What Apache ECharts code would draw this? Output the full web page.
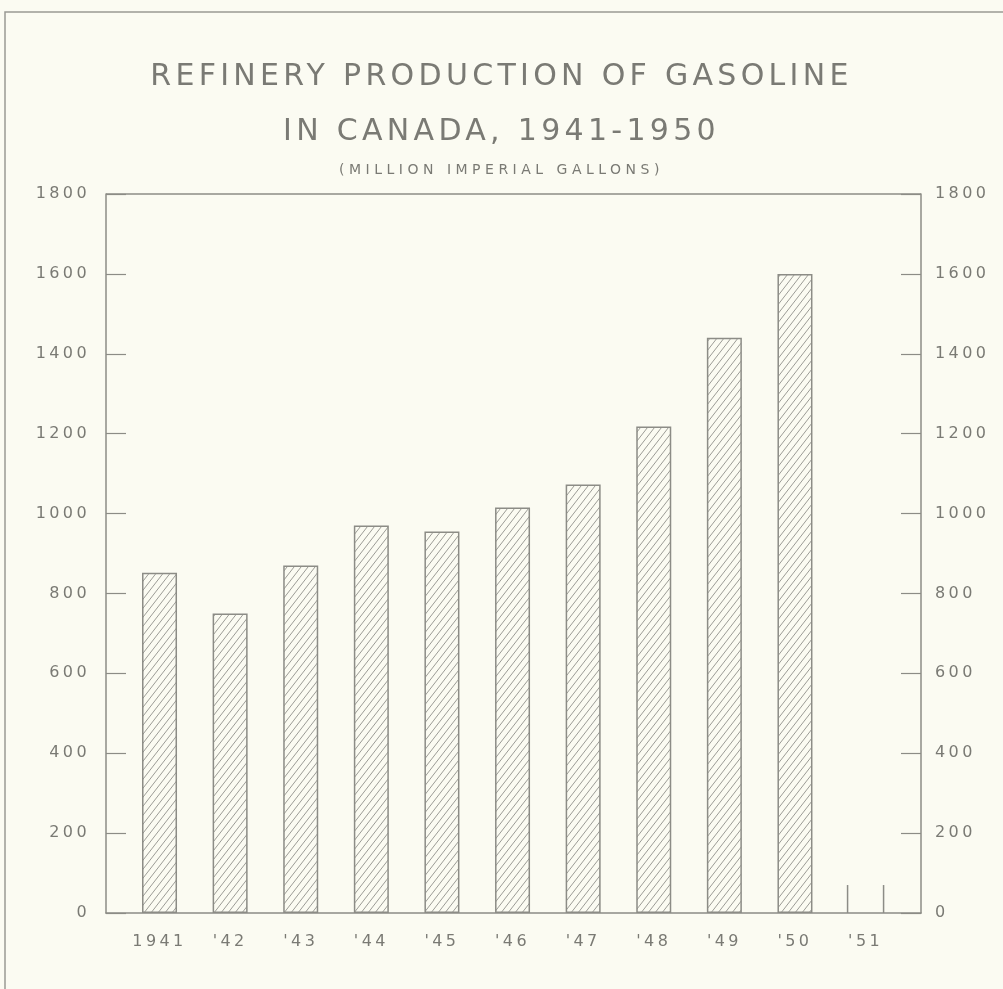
<!DOCTYPE html>
<html>
<head>
<meta charset="utf-8">
<script src="https://cdn.jsdelivr.net/npm/echarts@6/dist/echarts.min.js"></script>
<style>
html,body{margin:0;padding:0;background:#fbfbf2;}
#c{width:1003px;height:989px;}
</style>
</head>
<body>
<div id="c"></div>
<script>
// ---- data ----
const years = [1941, 1942, 1943, 1944, 1945, 1946, 1947, 1948, 1949, 1950];
const production = [852, 750, 870, 970, 955, 1015, 1073, 1218, 1440, 1600];
const labelYears = [1941, 1942, 1943, 1944, 1945, 1946, 1947, 1948, 1949, 1950, 1951];
const placeholderYear = [1951];
const placeholderHeight = [70];
const titleLine1 = 'REFINERY PRODUCTION OF GASOLINE';
const titleLine2 = 'IN CANADA, 1941-1950';
const subtitle = '(MILLION IMPERIAL GALLONS)';

// ---- styles ----
const ink = '#8c8c86';
const textInk = '#7a7a74';
const font = 'DejaVu Sans';
const TITLE_SIZE = 30, SUB_SIZE = 14, AXIS_SIZE = 16;
const spacingBySize = {30: 4.3, 14: 4.5, 16: 3.4};

// letter-spaced lettering (style only)
(function () {
  const proto = CanvasRenderingContext2D.prototype;
  if (!('letterSpacing' in proto)) return;
  const orig = proto.fillText;
  proto.fillText = function (t, x, y, m) {
    const mm = /(\d+(?:\.\d+)?)px/.exec(this.font);
    const fs = mm ? Math.round(+mm[1]) : 0;
    const sp = spacingBySize[fs];
    if (sp) {
      const prev = this.letterSpacing;
      this.letterSpacing = sp + 'px';
      if (m === undefined) orig.call(this, t, x, y); else orig.call(this, t, x, y, m);
      this.letterSpacing = prev;
    } else {
      if (m === undefined) orig.call(this, t, x, y); else orig.call(this, t, x, y, m);
    }
  };
})();

function hatch() {
  const w = 7, h = 9;
  const c = document.createElement('canvas');
  c.width = w; c.height = h;
  const g = c.getContext('2d');
  g.fillStyle = '#fbfbf2';
  g.fillRect(0, 0, w, h);
  g.strokeStyle = '#9c9c96';
  g.lineWidth = 1;
  g.beginPath();
  g.moveTo(0, h); g.lineTo(w, 0);
  g.moveTo(-w, h); g.lineTo(0, 0);
  g.moveTo(w, h); g.lineTo(2 * w, 0);
  g.stroke();
  return c;
}

const chart = echarts.init(document.getElementById('c'), null, {renderer: 'canvas'});

function yr(v) { return v === 1941 ? '1941' : "'" + String(v).slice(2); }
const axisLabelStyle = {fontFamily: font, fontSize: AXIS_SIZE, color: textInk};

chart.setOption({
  backgroundColor: '#fbfbf2',
  animation: false,
  title: [
    {text: titleLine1, left: 'center', top: 57, textStyle: {fontFamily: font, fontWeight: 'normal', fontSize: TITLE_SIZE, color: textInk}},
    {text: titleLine2, left: 'center', top: 112, textStyle: {fontFamily: font, fontWeight: 'normal', fontSize: TITLE_SIZE, color: textInk}},
    {text: subtitle, left: 'center', top: 158, textStyle: {fontFamily: font, fontWeight: 'normal', fontSize: SUB_SIZE, color: textInk}}
  ],
  grid: {left: 106, right: 82, top: 194, bottom: 76, show: false},
  xAxis: {
    type: 'value', min: 1940.242, max: 1951.785,
    splitLine: {show: false},
    axisLine: {show: true, onZero: false, lineStyle: {color: ink, width: 1.5}},
    axisTick: {show: false},
    axisLabel: Object.assign({customValues: labelYears, formatter: yr, margin: 21}, axisLabelStyle)
  },
  yAxis: [
    {type: 'value', min: 0, max: 1800, interval: 200, position: 'left',
     splitLine: {show: false},
     axisLine: {show: true, lineStyle: {color: ink, width: 1.5}},
     axisTick: {show: true, inside: true, length: 20, lineStyle: {color: ink, width: 1.2}},
     axisLabel: Object.assign({margin: 16, formatter: v => String(v)}, axisLabelStyle)},
    {type: 'value', min: 0, max: 1800, interval: 200, position: 'right',
     splitLine: {show: false},
     axisLine: {show: true, lineStyle: {color: ink, width: 1.5}},
     axisTick: {show: true, inside: true, length: 20, lineStyle: {color: ink, width: 1.2}},
     axisLabel: Object.assign({margin: 14, formatter: v => String(v)}, axisLabelStyle)}
  ],
  series: [
    {type: 'bar', barWidth: 35, yAxisIndex: 0,
     data: years.map((y, i) => [y, production[i]]),
     itemStyle: {color: {image: hatch(), repeat: 'repeat'}, borderColor: ink, borderWidth: 1.5},
     z: 3},
    {type: 'custom', yAxisIndex: 0,
     data: placeholderYear.map((y, i) => [y, placeholderHeight[i]]),
     renderItem: function (params, api) {
       const base = api.coord([api.value(0), 0]);
       const top = api.coord([api.value(0), api.value(1)]);
       const half = 18;
       return {type: 'group', children: [
         {type: 'line', shape: {x1: base[0] - half, y1: base[1], x2: base[0] - half, y2: top[1]}, style: {stroke: ink, lineWidth: 1.5}},
         {type: 'line', shape: {x1: base[0] + half, y1: base[1], x2: base[0] + half, y2: top[1]}, style: {stroke: ink, lineWidth: 1.5}}
       ]};
     }}
  ]
});
const W = chart.getWidth();
chart.setOption({graphic: [
  {type: 'rect', silent: true, shape: {x: 5, y: 12, width: 1200, height: 1200}, style: {fill: 'none', stroke: '#9a9a94', lineWidth: 1.5}},
  {type: 'line', silent: true, shape: {x1: 106, y1: 194, x2: W - 82, y2: 194}, style: {stroke: ink, lineWidth: 1.5}}
]});
</script>
</body>
</html>
